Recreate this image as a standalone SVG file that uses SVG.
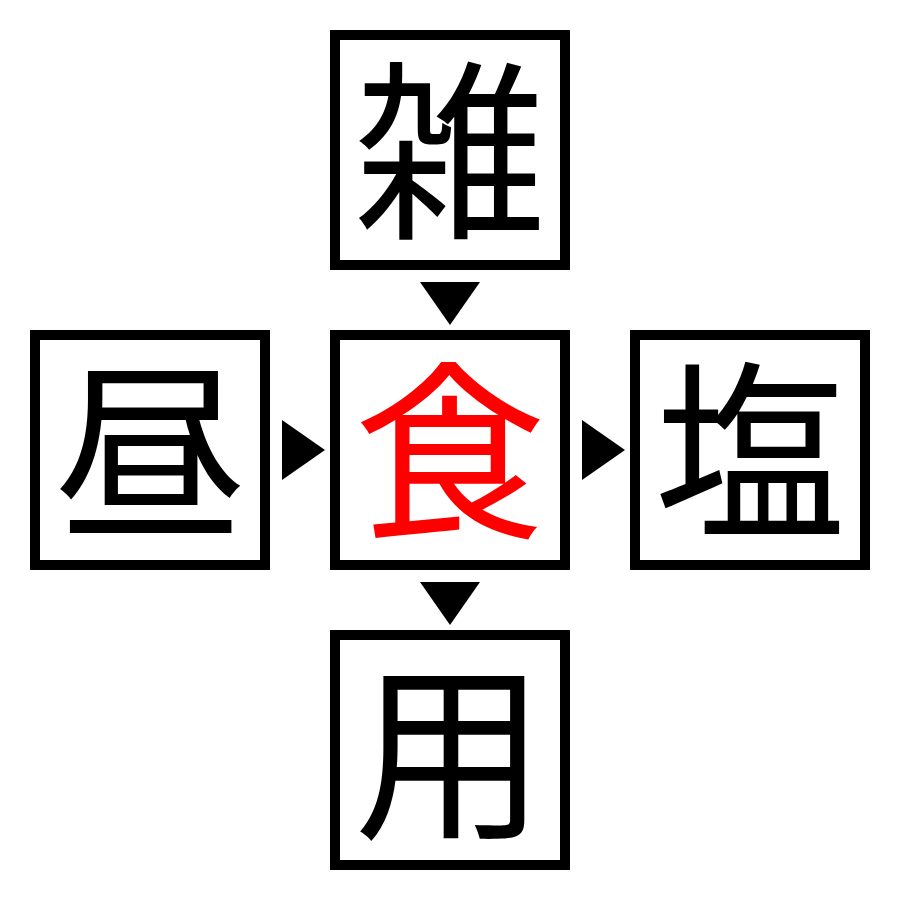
<svg xmlns="http://www.w3.org/2000/svg" width="900" height="900" viewBox="0 0 900 900">
<style>
.box{fill:#fff;stroke:#000;stroke-width:10}
.ch{font-family:"Noto Sans CJK JP","Noto Sans CJK SC",serif;font-size:192px;text-anchor:middle;fill:#000}
.hub{fill:#ff0000}
.arr{fill:#000}
</style>
<rect width="900" height="900" fill="#fff"/>
<g id="connectors">
<polygon class="arr" points="420,282 480,282 450,325"/>
<polygon class="arr" points="420,582 480,582 450,625"/>
<polygon class="arr" points="282,420 282,480 325,450"/>
<polygon class="arr" points="582,420 582,480 625,450"/>
</g>
<g id="node-top"><rect class="box" x="335" y="35" width="230" height="230"/><text class="ch" x="450" y="224">雑</text></g>
<g id="node-left"><rect class="box" x="35" y="335" width="230" height="230"/><text class="ch" x="150" y="524">昼</text></g>
<g id="node-center"><rect class="box" x="335" y="335" width="230" height="230"/><text class="ch hub" x="450" y="524">食</text></g>
<g id="node-right"><rect class="box" x="635" y="335" width="230" height="230"/><text class="ch" x="750" y="524">塩</text></g>
<g id="node-bottom"><rect class="box" x="335" y="635" width="230" height="230"/><text class="ch" x="450" y="824">用</text></g>
</svg>
